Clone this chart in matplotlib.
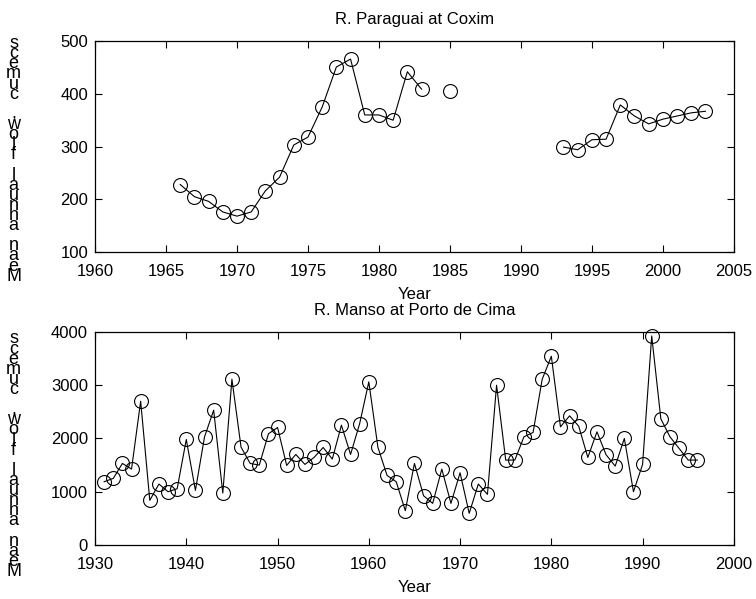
import matplotlib
matplotlib.use("Agg")
import matplotlib.pyplot as plt
import numpy as np

# R. Paraguai at Coxim (NaN = missing year)
coxim_years = np.arange(1966, 2004)
coxim_flow = [228, 205, 196, 176, 168, 176, 216, 242, 303, 318, 375, 451, 466, 360,
              360, 350, 442, 409, np.nan, 406, np.nan, np.nan, np.nan, np.nan, np.nan,
              np.nan, np.nan, 299, 294, 313, 314, 379, 358, 343, 352, 358, 364, 367]

# R. Manso at Porto de Cima
manso_years = np.arange(1931, 1997)
manso_flow = [1188, 1250, 1531, 1425, 2700, 838, 1144, 1000, 1056, 1981,
              1025, 2031, 2531, 975, 3113, 1838, 1531, 1500, 2088, 2206,
              1494, 1700, 1513, 1644, 1831, 1613, 2250, 1700, 2281, 3063,
              1831, 1306, 1188, 644, 1531, 925, 781, 1425, 781, 1356,
              594, 1144, 950, 3000, 1594, 1594, 2031, 2113, 3113, 3544,
              2219, 2425, 2231, 1644, 2125, 1694, 1481, 2000, 1000, 1513,
              3925, 2369, 2031, 1813, 1594, 1594]

plt.rcParams['font.family'] = ['Liberation Sans', 'DejaVu Sans']
plt.rcParams['font.size'] = 12

fig = plt.figure(figsize=(7.56, 5.99), dpi=100)
ax1 = fig.add_axes([0.1257, 0.5793, 0.845, 0.352])
ax2 = fig.add_axes([0.1257, 0.0902, 0.845, 0.3556])

ylab = "\n".join(reversed("Mean annual flow, cumecs"))

def style(ax):
    ax.tick_params(direction='in', top=True, right=True, length=5, width=0.8, labelsize=12)
    ax.tick_params(axis='x', pad=8.5)
    ax.tick_params(axis='y', pad=5)
    for s in ax.spines.values():
        s.set_linewidth(0.9)

ax1.plot(coxim_years, coxim_flow, color='black', lw=0.8, marker='o', markersize=10,
         markerfacecolor='none', markeredgecolor='black', markeredgewidth=0.8, clip_on=False)
ax1.set_xlim(1960, 2005)
ax1.set_ylim(100, 500)
ax1.set_xticks(np.arange(1960, 2006, 5))
ax1.set_yticks(np.arange(100, 501, 100))
ax1.set_title('R. Paraguai at Coxim', fontsize=12, pad=12)
ax1.set_xlabel('Year', fontsize=12, labelpad=6)
style(ax1)

ax2.plot(manso_years, manso_flow, color='black', lw=0.8, marker='o', markersize=10,
         markerfacecolor='none', markeredgecolor='black', markeredgewidth=0.8, clip_on=False)
ax2.set_xlim(1930, 2000)
ax2.set_ylim(0, 4000)
ax2.set_xticks(np.arange(1930, 2001, 10))
ax2.set_yticks(np.arange(0, 4001, 1000))
ax2.set_title('R. Manso at Porto de Cima', fontsize=12, pad=12)
ax2.set_xlabel('Year', fontsize=12, labelpad=6)
style(ax2)

fig.text(0.018, 0.733, ylab, ha='center', va='center', fontsize=13, linespacing=0.47)
fig.text(0.018, 0.240, ylab, ha='center', va='center', fontsize=13, linespacing=0.47)

fig.savefig('out.png', dpi=100)
